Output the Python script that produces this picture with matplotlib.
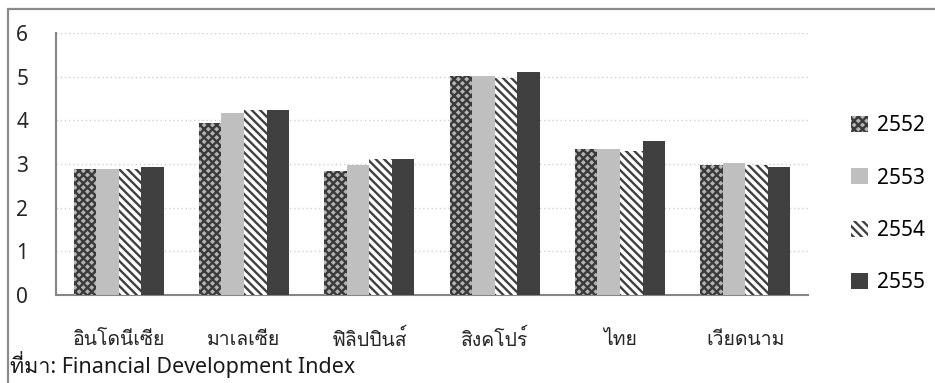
import numpy as np
import matplotlib
matplotlib.use("Agg")
import matplotlib.pyplot as plt
from matplotlib import font_manager
from matplotlib.ft2font import FT2Font
from matplotlib.patches import Rectangle

# Financial Development Index by country, years in the Thai calendar
countries = ["อินโดนีเซีย", "มาเลเซีย", "ฟิลิปปินส์", "สิงคโปร์", "ไทย", "เวียดนาม"]
years = ["2552", "2553", "2554", "2555"]
fdi_2552 = [2.88, 3.95, 2.83, 5.01, 3.35, 2.98]
fdi_2553 = [2.88, 4.17, 2.98, 5.01, 3.35, 3.02]
fdi_2554 = [2.88, 4.23, 3.11, 4.96, 3.30, 2.98]
fdi_2555 = [2.93, 4.23, 3.11, 5.11, 3.53, 2.93]
source_note = "ที่มา: Financial Development Index"


def find_thai_family():
    # first installed font that actually carries Thai glyphs
    for f in font_manager.fontManager.ttflist:
        try:
            if 0x0E01 in FT2Font(f.fname).get_charmap():
                return f.name
        except Exception:
            continue
    return None


thai = find_thai_family()
families = ["Noto Sans"] + ([thai] if thai else []) + ["DejaVu Sans"]
plt.rcParams["font.family"] = families
plt.rcParams["hatch.linewidth"] = 1.7

fig = plt.figure(figsize=(9.35, 3.83), dpi=100)
ax = fig.add_axes([56 / 935, 1 - 295 / 383, (808 - 56) / 935, (295 - 33) / 383])

x = np.arange(len(countries))
w = 0.18
series = [fdi_2552, fdi_2553, fdi_2554, fdi_2555]
styles = [
    dict(facecolor="#b4b4b4", edgecolor="#3a3a3a", hatch="xxxx", linewidth=0),
    dict(facecolor="#bfbfbf", edgecolor="#bfbfbf", linewidth=0),
    dict(facecolor="#ffffff", edgecolor="#404040", hatch="\\\\\\\\", linewidth=0),
    dict(facecolor="#404040", edgecolor="#404040", linewidth=0),
]
for i, (vals, st, yr) in enumerate(zip(series, styles, years)):
    ax.bar(x + (i - 1.5) * w, vals, w, label=yr, zorder=3, **st)

ax.set_xlim(-0.5, len(countries) - 0.5)
ax.set_ylim(0, 6)
ax.set_yticks(range(7))
ax.set_xticks(x)
ax.set_xticklabels(countries, fontsize=14)
ax.tick_params(axis="both", length=0, colors="#262626")
ax.tick_params(axis="y", pad=20, labelsize=15)
ax.tick_params(axis="x", pad=25)
ax.grid(axis="y", color="#d0d0d0", linestyle=(0, (1, 2)), linewidth=1, zorder=0)

for s in ["top", "right"]:
    ax.spines[s].set_visible(False)
for s in ["left", "bottom"]:
    ax.spines[s].set_color("#868686")
    ax.spines[s].set_linewidth(1.5)

fig.legend(loc="upper left", bbox_to_anchor=(843 / 935, 1 - 107 / 383),
           frameon=False, fontsize=15, handlelength=0.8, handleheight=0.8,
           handletextpad=0.45, labelspacing=1.5, borderaxespad=0)

# outer chart frame, running off the right and bottom edges
fig.add_artist(Rectangle((7.5 / 935, -0.2), 1.2, 1.2 - 8.5 / 383,
                         transform=fig.transFigure, fill=False,
                         edgecolor="#8a8a8a", linewidth=1.6))

fig.text(10 / 935, 1 - 365 / 383, source_note, fontsize=15.5,
         va="center", ha="left", color="#1a1a1a")

fig.savefig("out.png", dpi=100)
